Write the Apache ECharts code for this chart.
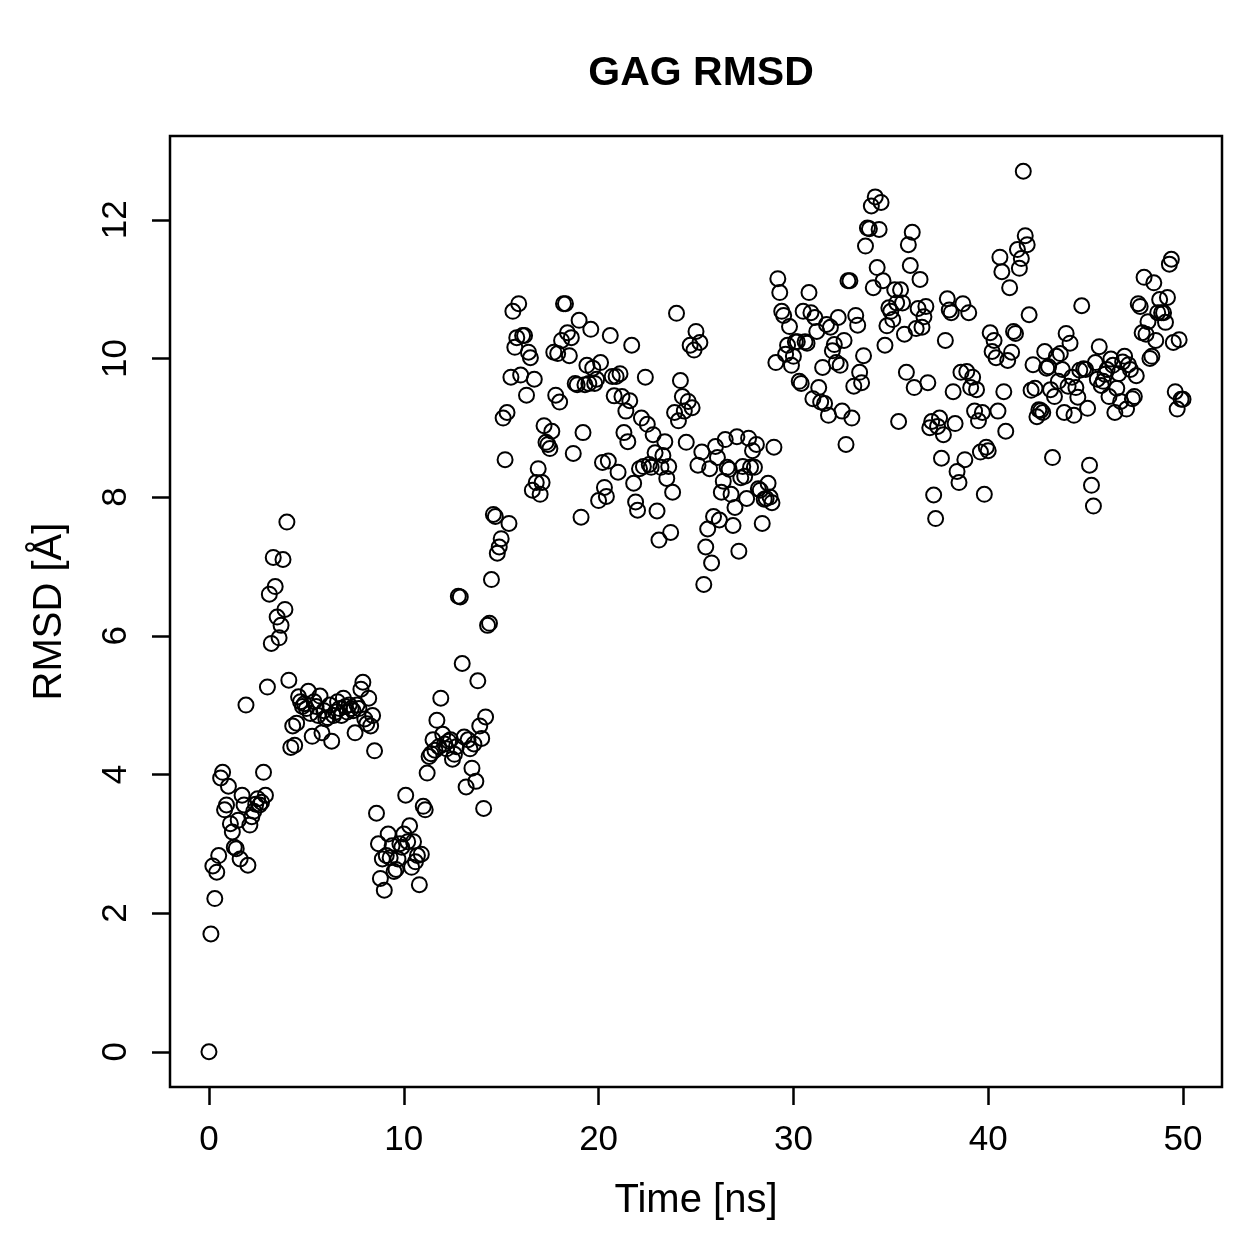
<!DOCTYPE html>
<html>
<head>
<meta charset="utf-8">
<script src="https://cdn.jsdelivr.net/npm/echarts@6/dist/echarts.min.js"></script>
<style>
  html, body { margin: 0; padding: 0; background: #fff; }
  #main { width: 1259px; height: 1259px; }
</style>
</head>
<body>
<div id="main"></div>
<script>
// one frame every 0.1 ns, RMSD (Angstrom)
var step = 0.1;
var rmsd = [
  0.00, 1.70, 2.68, 2.21, 2.59, 2.83, 3.95, 4.03, 3.49, 3.56,
  3.83, 3.29, 3.17, 2.95, 2.93, 3.34, 2.78, 3.70, 3.56, 5.00,
  2.69, 3.27, 3.39, 3.47, 3.57, 3.65, 3.56, 3.60, 4.03, 3.70,
  5.26, 6.60, 5.89, 7.13, 6.71, 6.27, 5.97, 6.15, 7.10, 6.38,
  7.64, 5.36, 4.39, 4.70, 4.42, 4.74, 5.12, 5.05, 4.98, 5.02,
  4.95, 5.20, 4.88, 4.55, 5.05, 4.98, 4.85, 5.13, 4.60, 4.92,
  4.80, 4.82, 5.00, 4.48, 4.85, 4.90, 5.05, 4.95, 4.85, 5.10,
  4.98, 4.90, 5.00, 4.95, 4.92, 4.60, 5.00, 4.95, 5.23, 5.33,
  4.80, 4.73, 5.10, 4.70, 4.85, 4.34, 3.44, 3.00, 2.50, 2.78,
  2.33, 2.83, 3.14, 2.80, 2.97, 2.60, 2.63, 2.78, 3.00, 2.95,
  3.14, 3.70, 3.03, 3.26, 2.66, 3.03, 2.74, 2.83, 2.41, 2.85,
  3.54, 3.49, 4.02, 4.26, 4.30, 4.50, 4.35, 4.78, 4.40, 5.10,
  4.58, 4.44, 4.37, 4.48, 4.50, 4.22, 4.29, 4.40, 6.57, 6.56,
  5.60, 4.54, 3.82, 4.50, 4.37, 4.09, 4.44, 3.90, 5.35, 4.70,
  4.52, 3.51, 4.83, 6.15, 6.18, 6.81, 7.75, 7.72, 7.19, 7.28,
  7.40, 9.14, 8.54, 9.22, 7.62, 9.73, 10.68, 10.16, 10.30, 10.79,
  9.76, 10.33, 10.33, 9.47, 10.09, 10.01, 8.10, 9.70, 8.21, 8.41,
  8.04, 8.21, 9.03, 8.79, 8.76, 8.70, 8.95, 10.09, 9.47, 10.07,
  9.37, 10.26, 10.79, 10.79, 10.37, 10.04, 10.30, 8.63, 9.64, 9.62,
  10.55, 7.71, 8.93, 9.62, 9.90, 9.64, 10.42, 9.86, 9.64, 9.70,
  7.95, 9.94, 8.50, 8.14, 8.01, 8.52, 10.33, 9.74, 9.46, 9.74,
  8.36, 9.78, 9.45, 8.93, 9.24, 8.80, 9.39, 10.19, 8.20, 7.93,
  7.81, 8.41, 9.14, 8.44, 9.73, 9.05, 8.47, 8.43, 8.90, 8.64,
  7.80, 7.38, 8.43, 8.60, 8.80, 8.27, 8.44, 7.49, 8.07, 9.22,
  10.65, 9.10, 9.68, 9.45, 9.24, 8.79, 9.38, 10.19, 9.29, 10.12,
  10.39, 8.46, 10.23, 8.65, 6.74, 7.28, 7.54, 8.41, 7.05, 7.72,
  8.73, 8.57, 7.67, 8.07, 8.23, 8.83, 8.43, 8.40, 8.04, 7.59,
  7.85, 8.87, 7.22, 8.28, 8.44, 8.30, 7.98, 8.85, 8.43, 8.67,
  8.43, 8.76, 8.12, 8.10, 7.62, 7.97, 7.98, 8.20, 8.00, 7.92,
  8.72, 9.94, 11.15, 10.95, 10.68, 10.62, 10.06, 10.19, 10.46, 9.90,
  10.03, 10.24, 10.24, 9.67, 9.64, 10.68, 10.24, 10.22, 10.95, 10.66,
  9.42, 10.59, 10.39, 9.58, 9.37, 9.87, 9.35, 10.49, 9.18, 10.45,
  10.11, 10.20, 9.94, 10.59, 9.90, 9.24, 10.26, 8.76, 11.12, 11.12,
  9.14, 9.60, 10.62, 10.48, 9.80, 9.65, 10.04, 11.62, 11.88, 11.87,
  12.20, 11.02, 12.33, 11.31, 11.86, 12.25, 11.12, 10.19, 10.47, 10.73,
  10.68, 10.56, 10.99, 10.80, 9.09, 10.99, 10.80, 10.35, 9.80, 11.64,
  11.34, 11.82, 9.58, 10.43, 10.72, 11.14, 10.45, 10.60, 10.75, 9.65,
  9.00, 9.09, 8.03, 7.69, 9.02, 9.14, 8.56, 8.90, 10.26, 10.86,
  10.70, 10.66, 9.52, 9.06, 8.37, 8.21, 9.80, 10.79, 8.54, 9.81,
  10.66, 9.58, 9.73, 9.24, 9.55, 9.10, 8.65, 9.22, 8.04, 8.72,
  8.67, 10.37, 10.10, 10.26, 10.01, 9.24, 11.46, 11.25, 9.52, 8.95,
  9.97, 11.02, 10.09, 10.39, 10.36, 11.57, 11.30, 11.44, 12.70, 11.77,
  11.64, 10.63, 9.54, 9.91, 9.57, 9.16, 9.26, 9.25, 9.22, 10.10,
  9.86, 9.88, 9.55, 8.57, 9.45, 10.03, 9.67, 10.07, 9.84, 9.22,
  10.36, 9.60, 10.22, 9.73, 9.18, 9.58, 9.44, 9.83, 10.76, 9.85,
  9.84, 9.28, 8.46, 8.17, 7.87, 9.94, 9.70, 10.17, 9.61, 9.67,
  9.77, 9.84, 9.45, 9.99, 9.90, 9.22, 9.57, 9.78, 9.38, 9.95,
  10.03, 9.27, 9.91, 9.84, 9.42, 9.45, 9.75, 10.79, 10.75, 10.37,
  11.17, 10.35, 10.53, 10.00, 10.03, 11.09, 10.26, 10.66, 10.85, 10.66,
  10.66, 10.52, 10.88, 11.36, 11.43, 10.23, 9.52, 9.27, 10.27, 9.41,
  9.41
];
var xTicks = [0, 10, 20, 30, 40, 50];
var yTicks = [0, 2, 4, 6, 8, 10, 12];

var points = rmsd.map(function (v, i) {
  return [Math.round(i * step * 10) / 10, v];
});

var font = 'Liberation Sans, Arial, Helvetica, sans-serif';

var myChart = echarts.init(document.getElementById('main'));

myChart.setOption({
  animation: false,
  backgroundColor: '#fff',
  title: {
    text: 'GAG RMSD',
    left: 696,
    top: 48,
    textAlign: 'center',
    textStyle: { fontFamily: font, fontSize: 41, fontWeight: 'bold', color: '#000' }
  },
  grid: {
    left: 170,
    right: 37,
    top: 136,
    bottom: 172,
    show: true,
    borderColor: '#000',
    borderWidth: 2.5,
    backgroundColor: 'transparent'
  },
  xAxis: {
    type: 'value',
    min: -2,
    max: 52,
    splitLine: { show: false },
    axisLine: { show: false, onZero: false },
    axisTick: {
      show: true,
      customValues: xTicks,
      length: 18,
      lineStyle: { color: '#000', width: 2.5 }
    },
    axisLabel: {
      customValues: xTicks,
      margin: 36,
      fontFamily: font,
      fontSize: 35,
      color: '#000'
    },
    name: 'Time [ns]',
    nameLocation: 'middle',
    nameGap: 94,
    nameTextStyle: { fontFamily: font, fontSize: 40, color: '#000' }
  },
  yAxis: {
    type: 'value',
    min: -0.508,
    max: 13.208,
    splitLine: { show: false },
    axisLine: { show: false, onZero: false },
    axisTick: {
      show: true,
      customValues: yTicks,
      length: 18,
      lineStyle: { color: '#000', width: 2.5 }
    },
    axisLabel: {
      customValues: yTicks,
      rotate: 90,
      margin: 36,
      fontFamily: font,
      fontSize: 35,
      color: '#000'
    },
    name: 'RMSD [Å]',
    nameLocation: 'middle',
    nameGap: 100,
    nameTextStyle: { fontFamily: font, fontSize: 40, color: '#000' }
  },
  series: [{
    type: 'scatter',
    data: points,
    symbol: 'circle',
    symbolSize: 15,
    itemStyle: {
      color: 'rgba(0,0,0,0)',
      borderColor: '#000',
      borderWidth: 2,
      opacity: 1
    },
    emphasis: { disabled: true }
  }]
});
</script>
</body>
</html>
